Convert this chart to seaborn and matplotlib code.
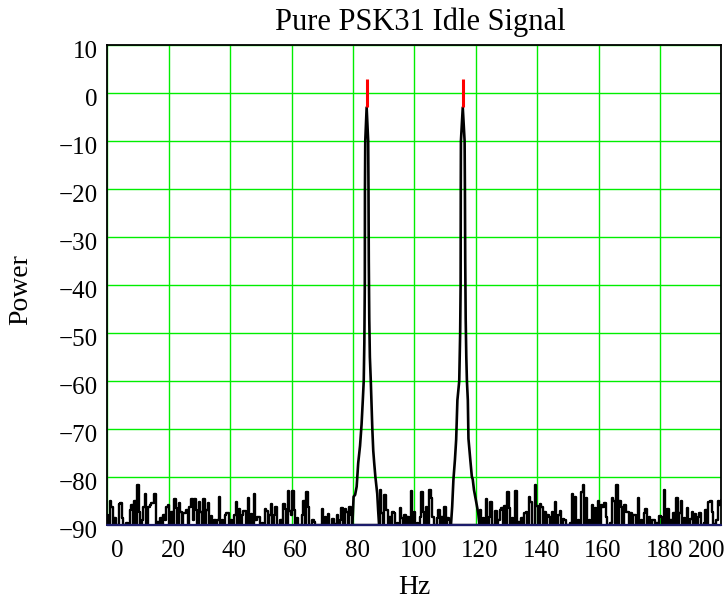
import numpy as np
import pandas as pd
import matplotlib
matplotlib.use("Agg")
import matplotlib.pyplot as plt
import matplotlib.transforms as mtransforms
import seaborn as sns

# Spectrum noise floor, 0.5 Hz bins from 0 to 200 Hz
NOISE_DB = [
    -88, -90, -85.0, -86.2, -90, -88.6, -90, -90, -85.7, -85.5, -88.6, -90, -90, -89.5, -90, -86.9, -85.8, -90, -85.0, -90,
    -81.6, -87.2, -90, -89, -86.2, -83.5, -90, -86.2, -85.8, -85.5, -85.5, -83.5, -90, -89.3, -90, -88.6, -90, -87.9, -89, -86.2,
    -85.8, -90, -87.2, -90, -84.6, -86.5, -90, -85.5, -87.2, -90, -87.6, -87.4, -86.9, -90, -86.2, -84.6, -89, -84.6, -86.9, -90,
    -85.3, -87.2, -90, -84.6, -90, -86.9, -85.5, -90, -88.2, -90, -88.9, -90, -88.9, -84.2, -90, -88.9, -90, -87.9, -87.6, -87.6,
    -90, -89, -90, -88, -85.2, -90, -86.6, -90, -88, -87.0, -87.0, -90, -84.3, -90, -87.7, -90, -83.6, -89, -88.3, -88.3,
    -90, -89.5, -90, -86.7, -87.0, -90, -88, -85.6, -90, -88, -86.2, -90, -90, -89, -90, -85.6, -86.6, -90, -83.0, -87,
    -88, -83.0, -86.9, -90, -88.6, -90, -90, -88.0, -85.0, -90, -83.2, -86.2, -90, -90, -89.0, -89.3, -90, -90, -90, -90,
    -86.6, -90, -88.3, -90, -87.7, -90, -90, -88.7, -90, -89.7, -88, -90, -89.0, -86.5, -90, -86.7, -87.2, -90, -86.2, -88,
    -90, -90, -90, -90, -90, -90, -90, -90, -90, -90, -90, -90, -90, -90, -90, -90, -90, -90, -82.7, -87.6,
    -90, -83.7, -86.9, -90, -88.3, -90, -87.2, -87.6, -90, -89.5, -90, -86.5, -88.6, -90, -87.9, -90, -88.3, -90, -83.0, -90,
    -87.2, -90, -89.5, -90, -88.3, -83.2, -87.2, -90, -86.2, -90, -82.7, -84.4, -88.3, -90, -90, -88.6, -86.9, -90, -88.3, -90,
    -86.2, -90, -88.6, -89.0, -90, -90, -90, -90, -90, -90, -90, -90, -90, -90, -90, -90, -90, -90, -90, -90,
    -90, -90, -90, -86.9, -90, -88.6, -90, -84.6, -90, -88.3, -85.3, -90, -90, -87.0, -90, -89.0, -86.9, -86.5, -90, -86.0,
    -90, -83.2, -86.5, -90, -88.6, -90, -82.9, -90, -89.3, -90, -88.6, -90, -87.4, -87.2, -90, -84.1, -85.3, -90, -90, -81.6,
    -86.0, -90, -85.6, -86.2, -90, -87.2, -90, -87.9, -88.3, -90, -87.2, -90, -85.3, -90, -87.9, -87.0, -90, -88.7, -89.0, -90,
    -90, -90, -89.5, -83.5, -90, -84.1, -90, -89.0, -90, -83.2, -81.6, -90, -84.4, -90, -89.0, -90, -85.8, -90, -86.5, -90,
    -85.0, -90, -85.8, -86.2, -85.5, -88.3, -90, -90, -89.5, -84.3, -85.0, -90, -81.6, -90, -85.0, -86.2, -90, -85.8, -87.2, -87.2,
    -90, -87.6, -90, -87.9, -87.9, -90, -84.3, -90, -89.0, -90, -87.6, -86.7, -90, -88.3, -90, -89, -89.0, -90, -89.5, -90,
    -88.1, -88.3, -90, -82.7, -90, -86.7, -90, -89.0, -90, -87.4, -90, -84.3, -90, -87.6, -84.9, -90, -88.6, -90, -86.5, -90,
    -88.8, -87.2, -90, -87.7, -90, -88.3, -87.4, -90, -90, -89.5, -86.9, -90, -85.3, -85.1, -87.2, -89.7, -90, -89, -84.9, -85.8,
    -84.8,
]
NOISE_HZ = np.arange(len(NOISE_DB)) * 0.5

# the two idle tones
PEAK1_HZ = [79.8, 80.2, 80.7, 81.2, 81.7, 82.3, 82.8, 83.2, 83.5, 83.7, 83.85, 83.9, 84.0, 84.45,
            84.95, 85.05, 85.15, 85.3, 85.5, 85.8, 86.0, 86.3, 86.6, 86.9, 87.3, 87.9, 88.2, 88.5]
PEAK1_DB = [-90, -84.1, -83.7, -82.0, -77.1, -73.5, -69.0, -64.0, -60.0, -52.0, -40.0, -20.0, -10.0, -3.0,
            -10.0, -20.0, -35.0, -47.0, -55.0, -60.0, -64.0, -70.0, -74.5, -77.0, -80.0, -83.5, -87.0, -90]
PEAK2_HZ = [111.9, 112.3, 112.7, 113.2, 113.6, 114.0, 114.6, 114.9, 115.05, 115.1, 115.15, 115.75,
            116.35, 116.45, 116.55, 116.7, 116.9, 117.1, 117.4, 117.6, 118.2, 118.7, 119.0, 119.4, 120.1, 120.8, 121.2]
PEAK2_DB = [-90, -86.2, -80.6, -76.4, -72.2, -64.0, -60.0, -50.0, -40.0, -20.0, -10.0, -3.0,
            -10.0, -20.0, -35.0, -47.0, -55.0, -60.0, -64.0, -72.0, -76.4, -79.9, -80.5, -82.7, -85.1, -87.6, -90]

# red tips on top of the tones
TIP_HZ = [84.45, 115.75]
TIP_LOW = [-3.0, -3.0]
TIP_HIGH = [3.0, 3.0]

FLOOR_DB = -90
X_TICKS = list(range(0, 201, 20))
Y_TICKS = list(range(-90, 11, 10))

sns.set_style("white")
plt.rcParams["font.family"] = ["Liberation Serif", "DejaVu Serif"]
plt.rcParams["axes.unicode_minus"] = True
for key in ("text.color", "axes.labelcolor", "xtick.color", "ytick.color"):
    plt.rcParams[key] = "black"

fig = plt.figure(figsize=(7.26, 6.0), dpi=100)
ax = fig.add_axes([0.1478, 0.125, 0.8460, 0.80])

noise = pd.DataFrame({"Hz": NOISE_HZ, "Power": NOISE_DB})
p1 = pd.DataFrame({"Hz": PEAK1_HZ, "Power": PEAK1_DB})
p2 = pd.DataFrame({"Hz": PEAK2_HZ, "Power": PEAK2_DB})

# noise bins drawn as narrow steps so they read as spikes
sns.lineplot(data=noise, x="Hz", y="Power", ax=ax, color="black", lw=1.7,
             sort=False, estimator=None, zorder=3, drawstyle="steps-mid")
for df in (p1, p2):
    sns.lineplot(data=df, x="Hz", y="Power", ax=ax, color="black", lw=1.9,
                 sort=False, estimator=None, zorder=3)

ax.vlines(TIP_HZ, TIP_LOW, TIP_HIGH, color="#ff0000", lw=2.2, zorder=4)
ax.axhline(FLOOR_DB, color="#1c1c6b", lw=1.6, zorder=5, clip_on=False)

ax.set_xlim(0, 200)
ax.set_ylim(-90, 10)
ax.set_xticks(X_TICKS)
ax.set_yticks(Y_TICKS)
ax.grid(True, color="#00ee00", lw=1.0, zorder=1)
ax.set_axisbelow(True)

for side in ("top", "left", "right"):
    ax.spines[side].set_color("black")
    ax.spines[side].set_linewidth(1.3)
ax.spines["bottom"].set_color("#1c1c6b")

ax.tick_params(axis="both", length=0, labelsize=18)
ax.tick_params(axis="x", pad=11)
ax.tick_params(axis="y", pad=7)

# nudge tick labels like the original export
dx = mtransforms.ScaledTranslation(3 / 72, 0, fig.dpi_scale_trans)
dy = mtransforms.ScaledTranslation(0, -3 / 72, fig.dpi_scale_trans)
xl = ax.get_xticklabels()
for t in xl:
    t.set_transform(t.get_transform() + dx)
xl[0].set_horizontalalignment("left")
xl[-1].set_horizontalalignment("right")
for t in ax.get_yticklabels():
    t.set_transform(t.get_transform() + dy)

ax.set_xlabel("Hz", fontsize=20)
ax.set_ylabel("Power", fontsize=20)
ax.xaxis.set_label_coords(0.5, -0.105)
ax.yaxis.set_label_coords(-0.12, 0.49)
ax.set_title("Pure PSK31 Idle Signal", fontsize=22, pad=11, x=0.51)

fig.savefig("out.png", dpi=100)
